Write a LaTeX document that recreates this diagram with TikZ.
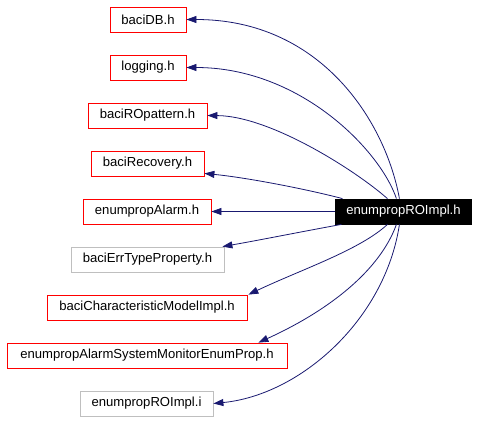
\documentclass[tikz,border=0pt]{standalone}
\usepackage{fontspec}
\setmainfont{Liberation Sans}
\usetikzlibrary{arrows.meta,calc}
\definecolor{edgeblue}{HTML}{191970}
\definecolor{boxgray}{HTML}{BFBFBF}
\tikzset{
  filebox/.style={draw=red, line width=0.8pt, minimum height=25pt, inner xsep=10.5pt, inner ysep=0pt, font=\fontsize{13.1}{15}\selectfont, text=black},
  graybox/.style={filebox, draw=boxgray},
  mainbox/.style={filebox, draw=black, fill=black, text=white},
  edge/.style={draw=edgeblue, line width=0.8pt, -{Triangle[length=10pt,width=7pt]}},
}
\begin{document}
\begin{tikzpicture}[x=1pt,y=-1pt]
\useasboundingbox (0,0) rectangle (480,421);
\node[filebox, minimum width=76pt] (db) at (148,19.5) {baciDB.h};
\node[filebox, minimum width=76pt] (log) at (148,67.5) {logging.h};
\node[filebox, minimum width=119pt] (rop) at (147.5,115.5) {baciROpattern.h};
\node[filebox, minimum width=113pt] (rec) at (147.5,163.5) {baciRecovery.h};
\node[filebox, minimum width=128pt] (alarm) at (147,211.5) {enumpropAlarm.h};
\node[graybox, minimum width=153pt] (err) at (147.5,259.5) {baciErrTypeProperty.h};
\node[filebox, minimum width=200pt] (cmi) at (147,307.5) {baciCharacteristicModelImpl.h};
\node[filebox, minimum width=280pt] (sys) at (147,355.5) {enumpropAlarmSystemMonitorEnumProp.h};
\node[graybox, minimum width=133pt] (roi) at (146.5,403.5) {enumpropROImpl.i};
\node[mainbox, minimum width=135pt] (main) at (403.5,211.5) {enumpropROImpl.h};

\draw[edge] ([xshift=64pt]main.north west) .. controls (385,120) and (320,19.5) .. (db.east);
\draw[edge] ([xshift=61pt]main.north west) .. controls (380,150) and (300,67.5) .. (log.east);
\draw[edge] ([xshift=52pt]main.north west) .. controls (355,170) and (270,116) .. (rop.east);
\draw[edge] ([xshift=7pt]main.north west) .. controls (310,190) and (250,178) .. ([yshift=3pt]rec.south east);
\draw[edge] (main.west) -- (alarm.east);
\draw[edge] ([xshift=6pt]main.south west) .. controls (300,232) and (260,240) .. ([xshift=-2pt]err.north east);
\draw[edge] ([xshift=52pt]main.south west) .. controls (360,250) and (300,270) .. ([xshift=1pt]cmi.north east);
\draw[edge] ([xshift=61pt]main.south west) .. controls (380,270) and (330,310) .. ([xshift=-29pt]sys.north east);
\draw[edge] ([xshift=64pt]main.south west) .. controls (385,320) and (300,395) .. (roi.east);
\end{tikzpicture}
\end{document}
